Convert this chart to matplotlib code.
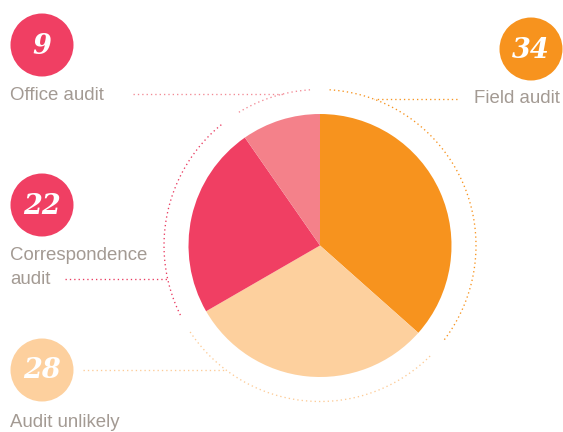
import numpy as np
import matplotlib
matplotlib.use("Agg")
import matplotlib.pyplot as plt
from matplotlib.patches import Circle

# ---- data ----
categories = ["Field audit", "Audit unlikely", "Correspondence audit", "Office audit"]
values = [34, 28, 22, 9]
slice_colors = ["#F7931E", "#FDD09E", "#F03F63", "#F4818A"]
ring_colors = ["#F7931E", "#FDCB96", "#E93B60", "#F28A95"]
badge_colors = ["#F7931E", "#FDD09E", "#F03F63", "#F03F63"]
label_texts = ["Field audit", "Audit unlikely", "Correspondence\naudit", "Office audit"]

W, H = 563, 432
fig = plt.figure(figsize=(W / 100, H / 100), dpi=100)
ax = fig.add_axes([0, 0, 1, 1])

def Y(y):  # image row -> data y
    return H - y

cx, cy = 320, Y(245.5)
R = 131.5
RING = 156

ax.pie(values, colors=slice_colors, startangle=90, counterclock=False,
       radius=R, center=(cx, cy), wedgeprops=dict(linewidth=0),
       frame=True)
ax.set_xlim(0, W)
ax.set_ylim(0, H)
ax.set_aspect("equal")
ax.axis("off")

dot = dict(linestyle=(0, (1, 2.3)), linewidth=0.95, dash_capstyle="butt")

# dotted ring arcs per segment
total = sum(values)
start = 90.0
gap = 3.5
for v, col in zip(values, ring_colors):
    end = start - v / total * 360.0
    th = np.radians(np.linspace(start - gap, end + gap, 200))
    ax.plot(cx + RING * np.cos(th), cy + RING * np.sin(th), color=col, **dot)
    start = end

# leader lines (horizontal, from label to ring)
def ring_x(yimg, side):
    dy = Y(yimg) - cy
    dx = np.sqrt(RING ** 2 - dy ** 2)
    return cx + side * dx

leaders = [
    (99, 457, +1),   # Field audit
    (370, 83, -1),   # Audit unlikely
    (279, 65, -1),   # Correspondence
    (94, 133, -1),   # Office
]
for (yl, xl, side), col in zip(leaders, ring_colors):
    xr = ring_x(yl, side)
    ax.plot([xl, xr], [Y(yl), Y(yl)], color=col, **dot)

# badges
badge_pos = [(531, 49), (42, 370), (42, 205), (42, 45)]
for (bx, by), col, v in zip(badge_pos, badge_colors, values):
    ax.add_patch(Circle((bx, Y(by)), 31.5, color=col, linewidth=0))
    ax.text(bx, Y(by) - 1, str(v), color="white", fontsize=19.5,
            family="DejaVu Serif", fontweight="bold", style="italic",
            ha="center", va="center")

# labels
gray = "#A39A93"
lab_font = dict(color=gray, fontsize=13.4, family="Liberation Sans")
ax.text(560, Y(103), label_texts[0], ha="right", va="baseline", **lab_font)
ax.text(10, Y(427), label_texts[1], ha="left", va="baseline", **lab_font)
ax.text(10, Y(260), "Correspondence", ha="left", va="baseline", **lab_font)
ax.text(10, Y(284), "audit", ha="left", va="baseline", **lab_font)
ax.text(10, Y(100), label_texts[3], ha="left", va="baseline", **lab_font)

fig.savefig("out.png", dpi=100)
